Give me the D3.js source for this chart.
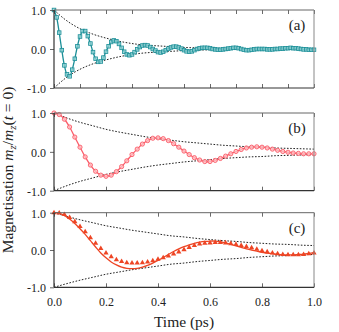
<!DOCTYPE html>
<html>
<head>
<meta charset="utf-8">
<style>
  body { margin: 0; background: #fff; }
  text { font-family: "Liberation Serif", "DejaVu Serif", serif; fill: #222; }
  .env { fill: none; stroke: #222; stroke-width: 1; stroke-dasharray: 1.6,1.6; }
</style>
</head>
<body>
<script src="https://cdn.jsdelivr.net/npm/d3@7"></script>
<script>
// ---- data ----
var timeA = [0.00,0.01,0.02,0.03,0.04,0.05,0.06,0.07,0.08,0.09,
  0.10,0.11,0.12,0.13,0.14,0.15,0.16,0.17,0.18,0.19,
  0.20,0.21,0.22,0.23,0.24,0.25,0.26,0.27,0.28,0.29,
  0.30,0.31,0.32,0.33,0.34,0.35,0.36,0.37,0.38,0.39,
  0.40,0.41,0.42,0.43,0.44,0.45,0.46,0.47,0.48,0.49,
  0.50,0.51,0.52,0.53,0.54,0.55,0.56,0.57,0.58,0.59,
  0.60,0.61,0.62,0.63,0.64,0.65,0.66,0.67,0.68,0.69,
  0.70,0.71,0.72,0.73,0.74,0.75,0.76,0.77,0.78,0.79,
  0.80,0.81,0.82,0.83,0.84,0.85,0.86,0.87,0.88,0.89,
  0.90,0.91,0.92,0.93,0.94,0.95,0.96,0.97,0.98,0.99,1.00];
var magA = [1.00,0.81,0.42,-0.03,-0.42,-0.65,-0.70,-0.53,-0.25,0.07,
  0.32,0.46,0.46,0.33,0.14,-0.08,-0.25,-0.33,-0.32,-0.22,
  -0.07,0.07,0.18,0.22,0.20,0.13,0.03,-0.07,-0.14,-0.16,
  -0.14,-0.08,-0.01,0.05,0.09,0.10,0.09,0.05,0.00,-0.04,
  -0.08,-0.09,-0.07,-0.03,0.01,0.04,0.06,0.06,0.04,0.01,
  -0.03,-0.06,-0.07,-0.06,-0.03,0.00,0.02,0.03,0.03,0.03,
  0.02,0.00,-0.01,-0.02,-0.02,-0.01,0.00,0.01,0.02,0.03,
  0.03,0.02,0.00,-0.02,-0.03,-0.03,-0.02,-0.01,0.00,0.00,
  0.00,0.00,-0.01,-0.01,-0.01,0.00,0.00,0.01,0.01,0.02,
  0.02,0.03,0.02,0.02,0.01,0.00,-0.01,-0.01,-0.02,-0.02,-0.02];

var timeB = [0.00,0.02,0.04,0.06,0.08,0.10,0.12,0.14,0.16,0.18,
  0.20,0.22,0.24,0.26,0.28,0.30,0.32,0.34,0.36,0.38,
  0.40,0.42,0.44,0.46,0.48,0.50,0.52,0.54,0.56,0.58,
  0.60,0.62,0.64,0.66,0.68,0.70,0.72,0.74,0.76,0.78,
  0.80,0.82,0.84,0.86,0.88,0.90,0.92,0.94,0.96,0.98,1.00];
var magB = [1.00,0.96,0.84,0.64,0.38,0.12,-0.13,-0.34,-0.50,-0.60,
  -0.63,-0.60,-0.51,-0.38,-0.23,-0.07,0.07,0.20,0.29,0.35,
  0.36,0.34,0.29,0.21,0.12,0.02,-0.07,-0.15,-0.21,-0.25,
  -0.25,-0.22,-0.17,-0.11,-0.05,0.01,0.06,0.10,0.12,0.13,
  0.12,0.10,0.07,0.04,0.01,-0.01,-0.03,-0.04,-0.05,-0.05,-0.05];

var timeC = [0.00,0.02,0.04,0.06,0.08,0.10,0.12,0.14,0.16,0.18,
  0.20,0.22,0.24,0.26,0.28,0.30,0.32,0.34,0.36,0.38,
  0.40,0.42,0.44,0.46,0.48,0.50,0.52,0.54,0.56,0.58,
  0.60,0.62,0.64,0.66,0.68,0.70,0.72,0.74,0.76,0.78,
  0.80,0.82,0.84,0.86,0.88,0.90,0.92,0.94,0.96,0.98,1.00];
var fitC = [1.00,0.98,0.93,0.83,0.71,0.57,0.42,0.25,0.08,-0.08,
  -0.21,-0.32,-0.40,-0.46,-0.49,-0.50,-0.49,-0.46,-0.41,-0.35,
  -0.28,-0.20,-0.12,-0.04,0.03,0.09,0.14,0.18,0.21,0.23,
  0.24,0.24,0.22,0.19,0.15,0.11,0.07,0.03,0.00,-0.03,
  -0.06,-0.08,-0.10,-0.12,-0.13,-0.13,-0.13,-0.12,-0.11,-0.09,-0.07];
var magC = [1.00,0.99,0.95,0.87,0.76,0.63,0.49,0.33,0.18,0.04,
  -0.08,-0.18,-0.26,-0.31,-0.34,-0.35,-0.35,-0.34,-0.32,-0.29,
  -0.25,-0.21,-0.16,-0.11,-0.05,0.01,0.07,0.12,0.16,0.18,
  0.19,0.20,0.20,0.19,0.17,0.15,0.12,0.09,0.06,0.02,
  -0.02,-0.05,-0.08,-0.10,-0.12,-0.13,-0.13,-0.13,-0.12,-0.10,-0.08];

// decay envelopes (dotted), read at 0.05 ps steps
var timeEnv = [0.00,0.05,0.10,0.15,0.20,0.25,0.30,0.35,0.40,0.45,0.50,
  0.55,0.60,0.65,0.70,0.75,0.80,0.85,0.90,0.95,1.00];
var envA = [1.00,0.72,0.52,0.38,0.28,0.20,0.14,0.10,0.08,0.06,0.04,
  0.03,0.02,0.015,0.011,0.008,0.006,0.004,0.003,0.002,0.002];
var envB = [1.00,0.87,0.76,0.67,0.58,0.51,0.45,0.39,0.34,0.30,0.26,
  0.23,0.20,0.17,0.15,0.13,0.12,0.10,0.09,0.08,0.07];
var envC = [1.00,0.90,0.81,0.73,0.65,0.59,0.53,0.48,0.43,0.38,0.35,
  0.31,0.28,0.25,0.23,0.20,0.18,0.16,0.15,0.13,0.12];

var xTicksCoarse = [0, 0.2, 0.4, 0.6, 0.8, 1.0];
var xTicksFine = [0, 0.1, 0.2, 0.3, 0.4, 0.5, 0.6, 0.7, 0.8, 0.9, 1.0];
var yTicks = [-1, 0, 1];

// ---- layout ----
var W = 339, H = 332;
var left = 54, right = 314;
var serif = "'Liberation Serif', serif";

var svg = d3.select("body").append("svg")
    .attr("width", W)
    .attr("height", H);

var x = d3.scaleLinear().domain([0, 1]).range([left, right]);

var panels = [
  { label: "(a)", top: 10, bottom: 88, t: timeA, m: magA, env: envA, ticks: xTicksFine,
    color: "#1b8f98", fill: "#8fd1d3", marker: "square" },
  { label: "(b)", top: 113, bottom: 190.7, t: timeB, m: magB, env: envB, ticks: xTicksCoarse,
    color: "#fb5c69", fill: "#ffc2c6", marker: "circle" },
  { label: "(c)", top: 212.7, bottom: 287.3, t: timeC, m: magC, fit: fitC, env: envC, ticks: xTicksCoarse,
    color: "#ee4524", fill: "#ee4524", marker: "triangle" }
];

panels.forEach(function (p, i) {
  var y = d3.scaleLinear().domain([-1, 1]).range([p.bottom, p.top]);
  var g = svg.append("g");

  // dotted envelopes
  var envLine = d3.line().curve(d3.curveMonotoneX)
      .x(function (d, k) { return x(timeEnv[k]); });
  g.append("path").attr("class", "env")
      .attr("d", envLine.y(function (d) { return y(d); })(p.env));
  g.append("path").attr("class", "env")
      .attr("d", envLine.y(function (d) { return y(-d); })(p.env));

  // solid line
  var lineVals = p.fit || p.m;
  var line = d3.line().curve(d3.curveCatmullRom)
      .x(function (d, k) { return x(p.t[k]); })
      .y(function (d) { return y(d); });
  g.append("path")
      .attr("d", line(lineVals))
      .attr("fill", "none")
      .attr("stroke", p.color)
      .attr("stroke-width", 1.3);

  // markers
  var pts = p.m.map(function (v, k) { return [p.t[k], v]; });
  if (p.marker === "square") {
    g.selectAll("rect.pt").data(pts).enter().append("rect")
        .attr("x", function (d) { return x(d[0]) - 1.8; })
        .attr("y", function (d) { return y(d[1]) - 1.8; })
        .attr("width", 3.6).attr("height", 3.6)
        .attr("fill", p.fill).attr("fill-opacity", 0.8)
        .attr("stroke", p.color).attr("stroke-width", 0.8);
  } else if (p.marker === "circle") {
    g.selectAll("circle.pt").data(pts).enter().append("circle")
        .attr("cx", function (d) { return x(d[0]); })
        .attr("cy", function (d) { return y(d[1]); })
        .attr("r", 2.1)
        .attr("fill", p.fill).attr("fill-opacity", 0.8)
        .attr("stroke", p.color).attr("stroke-width", 0.9);
  } else {
    var tri = d3.symbol().type(d3.symbolTriangle).size(12);
    g.selectAll("path.pt").data(pts).enter().append("path")
        .attr("d", tri)
        .attr("transform", function (d) { return "translate(" + x(d[0]) + "," + y(d[1]) + ")"; })
        .attr("fill", p.fill);
  }

  // axes: ticks inward on x (top and bottom), outward on y
  var bottomAxis = d3.axisBottom(x).tickValues(p.ticks).tickSize(-4).tickSizeOuter(0)
      .tickFormat(i === 2 ? d3.format(".1f") : "");
  var topAxis = d3.axisTop(x).tickValues(p.ticks).tickSize(-4).tickSizeOuter(0).tickFormat("");
  var leftAxis = d3.axisLeft(y).tickValues(yTicks).tickSize(4).tickSizeOuter(0)
      .tickFormat(function (d) { return d3.format(".1f")(d).replace("−", "-"); });

  var gb = g.append("g").attr("transform", "translate(0," + p.bottom + ")").call(bottomAxis);
  var gt = g.append("g").attr("transform", "translate(0," + p.top + ")").call(topAxis);
  var gl = g.append("g").attr("transform", "translate(" + left + ",0)").call(leftAxis);
  [gb, gt, gl].forEach(function (a) {
    a.attr("font-family", serif);
    a.select(".domain").remove();
    a.selectAll(".tick line").attr("stroke", "#444").attr("stroke-width", 0.8);
    a.selectAll("text").style("font-family", serif).style("font-size", "12px").attr("fill", "#222");
  });
  gb.selectAll("text").attr("dy", "1.3em");
  gl.selectAll("text").attr("x", -8).attr("dy", "0.36em");

  // frame: left/bottom dark, top/right grey
  g.append("line").attr("x1", left).attr("x2", right).attr("y1", p.top).attr("y2", p.top)
      .attr("stroke", "#666").attr("stroke-width", 1);
  g.append("line").attr("x1", right).attr("x2", right).attr("y1", p.top).attr("y2", p.bottom)
      .attr("stroke", "#888").attr("stroke-width", 1);
  g.append("line").attr("x1", left).attr("x2", right).attr("y1", p.bottom).attr("y2", p.bottom)
      .attr("stroke", "#333").attr("stroke-width", 1.2);
  g.append("line").attr("x1", left).attr("x2", left).attr("y1", p.top).attr("y2", p.bottom)
      .attr("stroke", "#333").attr("stroke-width", 1.2);

  // panel tag
  g.append("text")
      .attr("x", 297).attr("y", p.top + 20)
      .attr("text-anchor", "middle")
      .style("font-family", serif)
      .style("font-size", "15px")
      .text(p.label);
});

// x axis title
svg.append("text")
    .attr("x", (left + right) / 2)
    .attr("y", 327)
    .attr("text-anchor", "middle")
    .style("font-family", serif)
    .style("font-size", "15.5px")
    .text("Time (ps)");

// y axis title
var yt = svg.append("text")
    .attr("transform", "translate(13,170) rotate(-90)")
    .attr("text-anchor", "middle")
    .style("font-family", serif)
    .style("font-size", "15.5px");
yt.append("tspan").text("Magnetisation ");
yt.append("tspan").style("font-style", "italic").text("m");
yt.append("tspan").attr("dy", 3).style("font-size", "11px").style("font-style", "italic").text("z");
yt.append("tspan").attr("dy", -3).text("/");
yt.append("tspan").style("font-style", "italic").text("m");
yt.append("tspan").attr("dy", 3).style("font-size", "11px").style("font-style", "italic").text("z");
yt.append("tspan").attr("dy", -3).text("(");
yt.append("tspan").style("font-style", "italic").text("t");
yt.append("tspan").text(" = 0)");
</script>
</body>
</html>
